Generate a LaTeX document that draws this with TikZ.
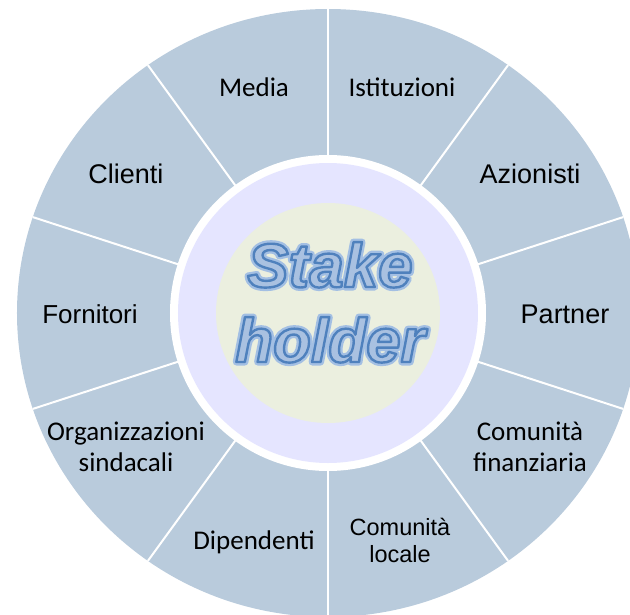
\documentclass[tikz,border=0pt]{standalone}
\usepackage{fontspec}
\setmainfont{Liberation Sans}
\newfontfamily\calibri{Carlito}
\definecolor{ringblue}{HTML}{B9CBDC}
\definecolor{hublav}{HTML}{E5E5FF}
\definecolor{hubgreen}{HTML}{EBEFDF}
\definecolor{titlefill}{HTML}{A9C1E1}
\definecolor{titleglow}{HTML}{A4BFE3}
% fill + stroked outline of the title letters
\newcommand\edgeword[1]{\special{pdf:literal direct 2 Tr 2.4 w 1 j 0.31 0.506 0.741 RG}#1\special{pdf:literal direct 0 Tr}}
\newcommand\glowword[1]{\special{pdf:literal direct 2 Tr 7 w 1 j 0.64 0.75 0.89 RG}#1\special{pdf:literal direct 0 Tr}}
\tikzset{
  arial/.style={font=\fontsize{27}{31}\selectfont,anchor=base,align=center,inner sep=0pt},
  calib/.style={font=\calibri\fontsize{27}{31}\selectfont,anchor=base,align=center,inner sep=0pt},
  title/.style={font=\bfseries\itshape\fontsize{62}{75}\selectfont,anchor=base,align=center,inner sep=0pt}
}
\begin{document}
\begin{tikzpicture}[x=1pt,y=1pt,line join=round,line cap=round]
    \def\outerrx{311}
    \def\outerry{304}
    \def\ringout{158}
    \def\ringin{150}
    \useasboundingbox (-328,-301) rectangle (302,313);
    \coordinate (O) at (0,0);
    \fill[ringblue] (O) ellipse [x radius=\outerrx, y radius=\outerry];
    \begin{scope}
      \clip (O) ellipse [x radius=\outerrx, y radius=\outerry];
      \foreach \a in {90,126,...,414}
        \draw[white,line width=2pt] (\a:\ringout) -- (\a:340);
    \end{scope}
    \fill[white] (O) circle (\ringout);
    \fill[hublav] (O) circle (\ringin);
    \fill[hubgreen] (O) ellipse [x radius=112, y radius=110];
    % sectors
    \node[calib] (media) at (-74,217) {Media};
    \node[calib] (istituzioni) at (74,217) {Istituzioni};
    \node[arial] (clienti) at (-202,130) {Clienti};
    \node[arial] (azionisti) at (202,130) {Azionisti};
    \node[arial,font=\fontsize{26}{31}\selectfont] (fornitori) at (-238,-10) {Fornitori};
    \node[arial] (partner) at (237,-10) {Partner};
    \node[calib] (sindacali) at (-202,-158) {Organizzazioni\\sindacali};
    \node[calib] (finanziaria) at (202,-158) {Comunità\\finanziaria};
    \node[calib] (dipendenti) at (-74,-236) {Dipendenti};
    \node[arial,font=\fontsize{23.5}{27}\selectfont] (locale) at (72,-249) {Comunità\\locale};
    % centre
    \node[title,text=titleglow] (glow) at (2,-49) {\glowword{Stake}\\\glowword{holder}};
    \node[title,text=titlefill] (stake) at (2,-49) {\edgeword{Stake}\\\edgeword{holder}};
\end{tikzpicture}
\end{document}
